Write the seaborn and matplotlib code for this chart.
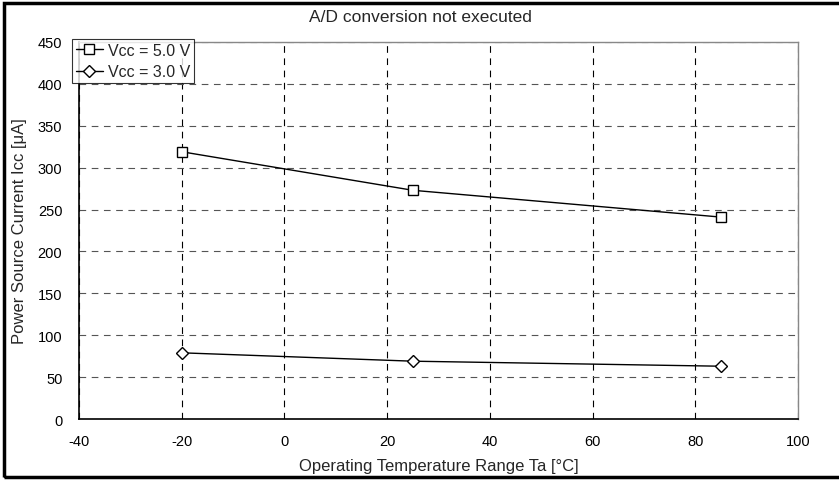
import matplotlib
matplotlib.use("Agg")
import matplotlib.pyplot as plt
import seaborn as sns
import pandas as pd

# Supply current vs. ambient temperature
temps = [-20, 25, 85]
icc_5v = [319, 273, 241]
icc_3v = [79, 69, 63]
series_names = ["Vcc = 5.0 V", "Vcc = 3.0 V"]
x_ticks = [-40, -20, 0, 20, 40, 60, 80, 100]
y_ticks = [0, 50, 100, 150, 200, 250, 300, 350, 400, 450]

df = pd.DataFrame({
    "Ta": temps * 2,
    "Icc": icc_5v + icc_3v,
    "Vcc": [series_names[0]] * len(temps) + [series_names[1]] * len(temps),
})

sns.set_theme(style="white")
plt.rcParams["font.family"] = ["Liberation Sans", "DejaVu Sans"]
plt.rcParams["axes.unicode_minus"] = False

fig = plt.figure(figsize=(8.39, 4.81), dpi=100)
W, H = 839, 481
ax = fig.add_axes([79 / W, 1 - 420 / H, (798 - 79) / W, (420 - 43) / H])

sns.lineplot(data=df, x="Ta", y="Icc", hue="Vcc", style="Vcc",
             palette=["black", "black"], markers=["s", "D"], dashes=False,
             markersize=7.2, markerfacecolor="white", markeredgecolor="black",
             markeredgewidth=1.0, linewidth=1.0, ax=ax)
# diamond slightly smaller than the square
for line in ax.lines:
    if line.get_marker() == "D":
        line.set_markersize(6.2)

ax.set_xlim(x_ticks[0], x_ticks[-1])
ax.set_ylim(y_ticks[0], y_ticks[-1])
ax.set_xticks(x_ticks)
ax.set_yticks(y_ticks)
ax.tick_params(axis="x", labelsize=10.5, length=0, pad=11, colors="black")
ax.tick_params(axis="y", labelsize=10.5, length=0, pad=12, colors="black")
ax.xaxis.grid(True, linestyle=(0, (6, 5)), color="black", linewidth=0.8)
ax.yaxis.grid(True, linestyle=(0, (6, 5)), color="#555555", linewidth=0.8)

for side in ["left", "bottom"]:
    ax.spines[side].set_color("black")
    ax.spines[side].set_linewidth(1.2)
for side in ["right", "top"]:
    ax.spines[side].set_color("#888888")
    ax.spines[side].set_linewidth(1.0)

ax.set_xlabel("Operating Temperature Range Ta [°C]", fontsize=12, labelpad=7)
ax.set_ylabel("Power Source Current Icc [μA]", fontsize=12, labelpad=8)
fig.text(420 / W, 1 - 18 / H, "A/D conversion not executed", ha="center",
         va="center", fontsize=12.5)

leg = ax.legend(loc="upper left", bbox_to_anchor=(-0.01, 1.008), frameon=True,
                fontsize=11.5, handlelength=1.7, handletextpad=0.3,
                borderpad=0.25, labelspacing=0.4, fancybox=False,
                borderaxespad=0.0)
leg.get_frame().set_edgecolor("black")
leg.get_frame().set_linewidth(0.8)
leg.set_title(None)

# outer frame around the chart
frame = plt.Rectangle((4 / W, 3 / H), 1.2, 1 - 7 / H, transform=fig.transFigure,
                      fill=False, edgecolor="black", linewidth=2.5)
fig.patches.append(frame)

fig.savefig("out.png", dpi=100)
